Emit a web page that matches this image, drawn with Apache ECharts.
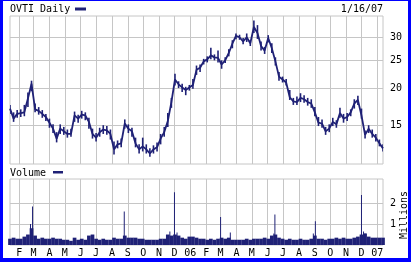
<!DOCTYPE html>
<html>
<head>
<meta charset="utf-8">
<script src="https://cdn.jsdelivr.net/npm/echarts@6/dist/echarts.min.js"></script>
<style>
html,body{margin:0;padding:0;background:#fff;}
#chart{width:411px;height:262px;}
</style>
</head>
<body>
<div id="chart"></div>
<script>
// ---- data ----
const weekStart = [2005, 0, 14];           // first weekly sample (1/14/05), one sample per week
const priceClose = [
  17.1,15.8,16.4,16.5,16.6,18.5,20.8,17.0,16.8,16.4,
  16.0,15.3,14.6,13.5,14.6,14.3,14.0,14.0,16.2,15.8,
  16.3,16.2,15.4,14.0,13.6,14.2,14.5,14.4,14.0,12.4,
  12.9,13.0,15.2,14.6,14.3,13.0,12.4,12.7,12.4,12.0,
  12.4,12.6,13.5,14.2,15.5,18.0,21.5,20.7,20.2,19.8,
  20.2,20.6,23.2,23.6,24.8,25.2,26.0,25.6,25.5,24.2,
  25.0,26.5,28.5,30.3,30.0,29.0,30.0,28.6,32.5,31.0,
  28.0,27.0,29.8,27.5,24.8,22.0,21.5,21.0,18.7,18.1,
  18.0,18.6,18.4,18.0,17.8,16.6,15.3,15.2,14.3,14.6,
  15.4,15.1,16.5,15.8,16.0,16.6,17.8,18.3,16.2,13.9,
  14.6,14.0,13.6,13.0,12.5
];
const priceLow = [
  16.4,15.4,15.9,16.0,16.1,17.3,19.6,16.6,16.3,15.9,
  15.5,14.7,14.1,13.1,14.0,13.9,13.6,13.7,15.4,15.3,
  15.8,15.6,14.6,13.5,13.2,13.7,14.0,13.9,13.4,11.9,
  12.5,12.6,14.6,14.1,13.7,12.6,12.0,12.2,12.0,11.7,
  12.0,12.2,12.9,13.7,14.8,17.2,20.5,20.1,19.5,19.0,
  19.7,20.0,22.3,22.8,24.2,24.6,25.2,25.0,24.6,23.4,
  24.5,25.8,27.5,29.5,29.4,28.4,28.9,28.0,31.0,29.6,
  27.0,26.3,28.8,26.5,24.0,21.3,21.0,20.5,18.3,17.6,
  17.6,18.0,17.9,17.5,17.2,16.1,14.9,14.7,13.9,14.2,
  14.9,14.7,15.9,15.3,15.5,16.1,17.1,17.6,15.8,13.5,
  14.1,13.6,13.2,12.7,12.2
];
const priceHigh = [
  17.6,16.6,16.9,17.0,17.6,19.4,21.3,17.8,17.3,16.9,
  16.4,15.8,15.1,14.2,15.1,14.8,14.5,14.6,16.7,16.3,
  16.8,16.6,15.9,14.6,14.1,14.7,15.0,14.9,14.5,13.2,
  13.3,13.5,15.7,15.1,14.7,13.6,12.9,13.6,12.9,12.5,
  12.8,13.1,14.0,14.8,16.5,18.6,22.5,21.2,20.8,20.3,
  20.6,21.6,24.0,24.2,25.3,25.8,27.6,26.2,27.0,25.0,
  25.6,27.3,29.3,30.9,30.6,29.8,30.9,29.3,34.2,33.0,
  29.0,27.8,30.5,28.6,25.6,22.8,22.0,21.6,19.8,18.6,
  18.8,19.3,19.0,18.6,18.4,17.3,16.0,15.7,14.8,15.1,
  15.9,15.6,17.2,16.4,16.5,17.0,18.4,18.9,17.1,14.4,
  15.0,14.5,14.0,13.4,12.9
];
const volumeBase = [
  0.3,0.35,0.3,0.3,0.4,0.5,0.8,0.45,0.3,0.35,
  0.3,0.3,0.35,0.3,0.3,0.25,0.25,0.2,0.35,0.25,
  0.3,0.25,0.45,0.5,0.3,0.25,0.3,0.25,0.25,0.35,
  0.3,0.3,0.45,0.35,0.35,0.35,0.3,0.3,0.25,0.25,
  0.25,0.25,0.3,0.3,0.5,0.45,0.5,0.45,0.35,0.3,
  0.4,0.4,0.35,0.3,0.3,0.25,0.3,0.25,0.3,0.35,
  0.3,0.35,0.25,0.25,0.25,0.25,0.3,0.25,0.3,0.3,
  0.3,0.35,0.3,0.45,0.5,0.35,0.3,0.25,0.3,0.25,
  0.25,0.3,0.25,0.25,0.3,0.45,0.3,0.3,0.25,0.3,
  0.3,0.35,0.3,0.35,0.3,0.3,0.35,0.4,0.5,0.55,
  0.4,0.35,0.35,0.35,0.35
];
const spikeDates = ['2005-02-23','2005-02-27','2005-08-25','2005-11-22','2005-12-01','2005-12-06',
  '2006-03-01','2006-03-20','2006-06-13','2006-06-15','2006-08-29','2006-09-02','2006-12-01','2006-12-05','2006-12-08'];
const spikeValues = [1.0,1.84,1.6,0.65,2.52,0.6,1.34,0.6,0.55,1.45,0.55,1.13,2.39,0.65,0.55];
const priceTicks = [15,20,25,30];
const volumeTicks = [1,2];
const monthTicks = ['2005-02-01','2005-03-01','2005-04-01','2005-05-01','2005-06-01','2005-07-01',
  '2005-08-01','2005-09-01','2005-10-01','2005-11-01','2005-12-01','2006-01-01','2006-02-01',
  '2006-03-01','2006-04-01','2006-05-01','2006-06-01','2006-07-01','2006-08-01','2006-09-01',
  '2006-10-01','2006-11-01','2006-12-01','2007-01-01'];
const monthLabels = ['F','M','A','M','J','J','A','S','O','N','D','06','F','M','A','M','J','J','A','S','O','N','D','07'];
const xMin = '2005-01-14', xMax = '2007-01-12';
const priceMin = 11.05, priceMax = 35.46;
const volMax = 3.15;

// ---- build ----
function ts(s) { const p = s.split('-'); return new Date(+p[0], +p[1] - 1, +p[2]).getTime(); }
const weeks = priceClose.map((_, i) => new Date(weekStart[0], weekStart[1], weekStart[2] + 7 * i).getTime());
const monthTickTs = monthTicks.map(ts);
const spikeTs = spikeDates.map(ts);
const navy = '#1f2176';
const gridGrey = '#c6c6c6';
const FONT = 'DejaVu Sans Mono';

function monthLabel(v) {
  let best = 0, bd = Infinity;
  monthTickTs.forEach((t, i) => { const d = Math.abs(t - v); if (d < bd) { bd = d; best = i; } });
  return monthLabels[best];
}

const xBase = {
  type: 'value', min: ts(xMin), max: ts(xMax),
  axisLine: { show: false }, axisTick: { show: false, customValues: monthTickTs },
  splitLine: { show: true, lineStyle: { color: gridGrey, width: 1 } }
};

const chart = echarts.init(document.getElementById('chart'), null, { renderer: 'canvas' });
chart.setOption({
  animation: false,
  backgroundColor: '#fff',
  grid: [
    { left: 10, top: 16, width: 373, height: 148, show: true, borderColor: gridGrey, borderWidth: 1, backgroundColor: '#fff' },
    { left: 10, top: 179, width: 373, height: 66, show: true, borderColor: gridGrey, borderWidth: 1, backgroundColor: '#fff' }
  ],
  xAxis: [
    Object.assign({}, xBase, { gridIndex: 0, axisLabel: { show: false, customValues: monthTickTs } }),
    Object.assign({}, xBase, { gridIndex: 1, axisLabel: { show: true, customValues: monthTickTs, formatter: monthLabel,
      fontFamily: FONT, fontSize: 10, color: '#000', margin: 3 } }),
    { type: 'value', gridIndex: 1, min: ts(xMin), max: ts(xMax), show: false, splitLine: { show: false } }
  ],
  yAxis: [
    { type: 'value', gridIndex: 0, position: 'right', min: Math.log(priceMin), max: Math.log(priceMax),
      axisLine: { show: false }, axisTick: { show: false, customValues: priceTicks.map(Math.log) },
      axisLabel: { customValues: priceTicks.map(Math.log), formatter: v => String(Math.round(Math.exp(v))),
        fontFamily: FONT, fontSize: 10, color: '#000', margin: 7 },
      splitLine: { show: true, lineStyle: { color: gridGrey } } },
    { type: 'value', gridIndex: 1, position: 'right', min: 0, max: volMax,
      axisLine: { show: false }, axisTick: { show: false, customValues: volumeTicks },
      axisLabel: { customValues: volumeTicks, fontFamily: FONT, fontSize: 10, color: '#000', margin: 7 },
      splitLine: { show: true, lineStyle: { color: gridGrey } } }
  ],
  series: [
    { type: 'line', xAxisIndex: 0, yAxisIndex: 0, showSymbol: false, symbol: 'none',
      lineStyle: { color: navy, width: 1.8 }, data: weeks.map((t, i) => [t, Math.log(priceClose[i])]) },
    { type: 'custom', xAxisIndex: 0, yAxisIndex: 0, clip: true,
      encode: { x: 0, y: [1, 2] },
      data: weeks.map((t, i) => [t, Math.log(priceLow[i]), Math.log(priceHigh[i])]),
      renderItem: function (params, api) {
        const a = api.coord([api.value(0), api.value(1)]);
        const b = api.coord([api.value(0), api.value(2)]);
        return { type: 'line', shape: { x1: a[0], y1: a[1], x2: b[0], y2: b[1] },
          style: { stroke: navy, lineWidth: 1.6 } };
      } },
    { type: 'bar', xAxisIndex: 1, yAxisIndex: 1, barWidth: 3.7, itemStyle: { color: navy },
      data: weeks.map((t, i) => [t, volumeBase[i]]) },
    { type: 'bar', xAxisIndex: 2, yAxisIndex: 1, barWidth: 1, itemStyle: { color: navy },
      data: spikeTs.map((t, i) => [t, spikeValues[i]]) }
  ],
  graphic: [
    { type: 'text', left: 10, top: 4, style: { text: 'OVTI Daily', font: '10px "DejaVu Sans Mono"', fill: '#000' } },
    { type: 'rect', shape: { x: 75, y: 7.5, width: 11, height: 3 }, style: { fill: navy } },
    { type: 'text', right: 28, top: 4, style: { text: '1/16/07', font: '10px "DejaVu Sans Mono"', fill: '#000' } },
    { type: 'text', left: 10, top: 168, style: { text: 'Volume', font: '10px "DejaVu Sans Mono"', fill: '#000' } },
    { type: 'rect', shape: { x: 53, y: 171, width: 10, height: 2.5 }, style: { fill: navy } },
    { type: 'text', x: 404, y: 215, rotation: Math.PI / 2,
      style: { text: 'Millions', font: '10px "DejaVu Sans Mono"', fill: '#000', align: 'center', verticalAlign: 'middle' } },
    { type: 'rect', shape: { x: 0, y: 0, width: 3, height: 262 }, style: { fill: '#0000ff' } },
    { type: 'rect', shape: { x: 0, y: 258, width: 411, height: 4 }, style: { fill: '#0000ff' } },
    { type: 'rect', shape: { x: 408, y: 0, width: 3, height: 262 }, style: { fill: '#0000ff' } },
    { type: 'rect', shape: { x: 0, y: 0, width: 411, height: 1 }, style: { fill: '#0000ff' } }
  ]
});
</script>
</body>
</html>
